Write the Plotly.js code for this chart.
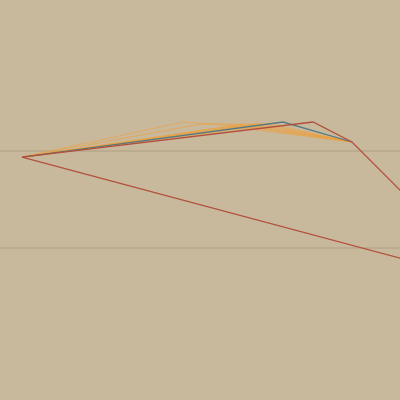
<!DOCTYPE html>
<html>
<head>
<meta charset="utf-8">
<script src="https://cdn.plot.ly/plotly-3.0.1.min.js"></script>
<style>html,body{margin:0;padding:0;background:#c8b99d;}#chart{width:400px;height:400px;}</style>
</head>
<body>
<div id="chart"></div>
<script>
// Series values (x = step, y = level)
var orange1X = [0, 4.88, 6.61, 10];
var orange1Y = [93.8, 129.9, 125.8, 109.3];
var orange2X = [0, 5.39, 7.52, 10];
var orange2Y = [93.8, 127.8, 127.8, 109.3];
var orange3X = [0, 6.91, 10];
var orange3Y = [93.8, 126.8, 109.3];
var orange4X = [0, 7.36, 10];
var orange4Y = [93.8, 125.8, 109.3];
var orange5X = [0, 6.30, 10];
var orange5Y = [93.8, 125.3, 109.3];
var orange6X = [0, 6.61, 10];
var orange6Y = [93.8, 127.3, 109.3];
var orange7X = [0, 7.21, 10];
var orange7Y = [93.8, 128.3, 109.3];
var blueX = [0, 7.91, 10];
var blueY = [93.8, 129.9, 109.3];
var redX = [0, 8.82, 10, 14.27, 0];
var redY = [93.8, 129.9, 109.3, -36.1, 93.8];
var gridVals = [0, 100];

var orangeSets = [[orange1X, orange1Y], [orange2X, orange2Y], [orange3X, orange3Y],
                  [orange4X, orange4Y], [orange5X, orange5Y], [orange6X, orange6Y],
                  [orange7X, orange7Y]];
var traces = orangeSets.map(function (s) {
  return {x: s[0], y: s[1], mode: 'lines', type: 'scatter', hoverinfo: 'skip',
          line: {color: 'rgba(240,158,55,0.55)', width: 1.2}};
});
traces.push({x: blueX, y: blueY, mode: 'lines', type: 'scatter',
             line: {color: '#557a80', width: 1.3}});
traces.push({x: redX, y: redY, mode: 'lines', type: 'scatter',
             line: {color: '#b2503c', width: 1.3}});

var layout = {
  width: 400, height: 400,
  margin: {l: 0, r: 0, t: 0, b: 0},
  paper_bgcolor: '#c8b99d', plot_bgcolor: '#c8b99d',
  showlegend: false,
  xaxis: {range: [-0.667, 11.455], showgrid: false, zeroline: false, showticklabels: false, ticks: ''},
  yaxis: {range: [-156.7, 255.7], tickvals: gridVals, showticklabels: false, ticks: '',
          gridcolor: '#bbab8f', gridwidth: 1.5, zeroline: false}
};
Plotly.newPlot('chart', traces, layout, {staticPlot: true});
</script>
</body>
</html>
